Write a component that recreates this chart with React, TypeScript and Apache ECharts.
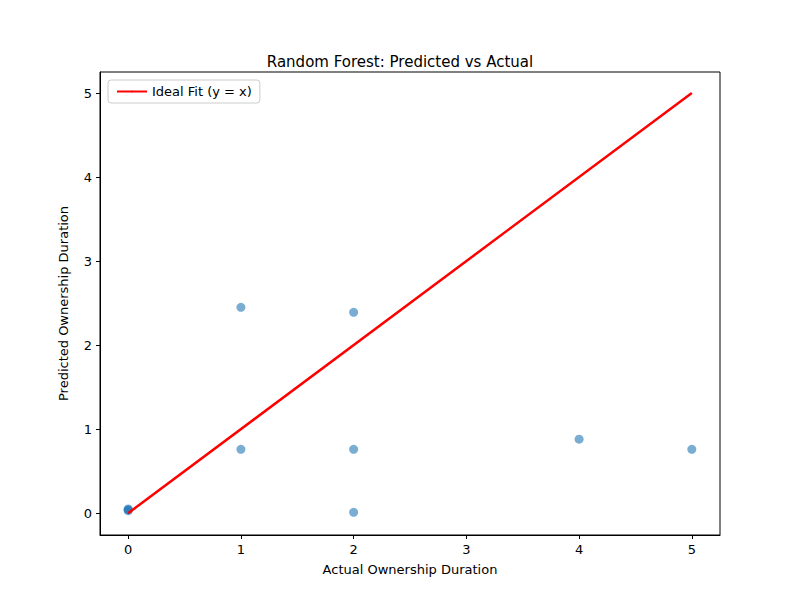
import React, { useEffect, useRef } from 'react';
import * as echarts from 'echarts';

const actual = [0, 0, 0, 1, 1, 2, 2, 2, 4, 5];
const predicted = [0.05, 0.03, 0.04, 2.45, 0.76, 2.39, 0.76, 0.01, 0.88, 0.76];
const tickValues = [0, 1, 2, 3, 4, 5];
const idealLine = [[0, 0], [5, 5]];

const App: React.FC = () => {
	const chartRef = useRef<HTMLDivElement>(null);

	useEffect(() => {
		if (!chartRef.current) return;
		const chart = echarts.init(chartRef.current, undefined, { renderer: 'svg' });
		const font = 'DejaVu Sans, sans-serif';

		const axisCommon = {
			type: 'value' as const,
			splitLine: { show: false },
			axisLine: { show: true, onZero: false, lineStyle: { color: '#000' } },
			axisTick: { show: true, customValues: tickValues, length: 4, lineStyle: { color: '#000' } },
			axisLabel: { customValues: tickValues, color: '#000', fontSize: 13, fontFamily: font },
			nameLocation: 'middle' as const,
			nameTextStyle: { color: '#000', fontSize: 13, fontFamily: font }
		};

		chart.setOption({
			animation: false,
			backgroundColor: '#fff',
			title: {
				text: 'Random Forest: Predicted vs Actual',
				left: 'center',
				top: 49,
				textStyle: { fontSize: 15, fontWeight: 'normal', color: '#000', fontFamily: font }
			},
			grid: { left: 100, right: 80, top: 72, bottom: 65, show: true, borderColor: '#000', borderWidth: 1 },
			legend: {
				left: 108,
				top: 80,
				data: ['Ideal Fit (y = x)'],
				borderColor: '#ccc',
				borderWidth: 1,
				borderRadius: 3,
				padding: [5, 8],
				itemWidth: 30,
				itemHeight: 2,
				textStyle: { fontSize: 13, fontFamily: font, color: '#000' }
			},
			xAxis: { ...axisCommon, min: -0.25, max: 5.25, name: 'Actual Ownership Duration', nameGap: 28 },
			yAxis: { ...axisCommon, min: -0.26, max: 5.25, name: 'Predicted Ownership Duration', nameGap: 30 },
			series: [
				{
					type: 'scatter',
					data: actual.map((x, i) => [x, predicted[i]]),
					symbolSize: 9,
					itemStyle: { color: '#1f77b4', opacity: 0.6 }
				},
				{
					name: 'Ideal Fit (y = x)',
					type: 'line',
					data: idealLine,
					symbol: 'none',
					lineStyle: { color: 'red', width: 2.5 },
					itemStyle: { color: 'red' }
				}
			]
		});

		return () => chart.dispose();
	}, []);

	return <div ref={chartRef} style={{ width: 800, height: 600, margin: -8 }} />;
};

export default App;
